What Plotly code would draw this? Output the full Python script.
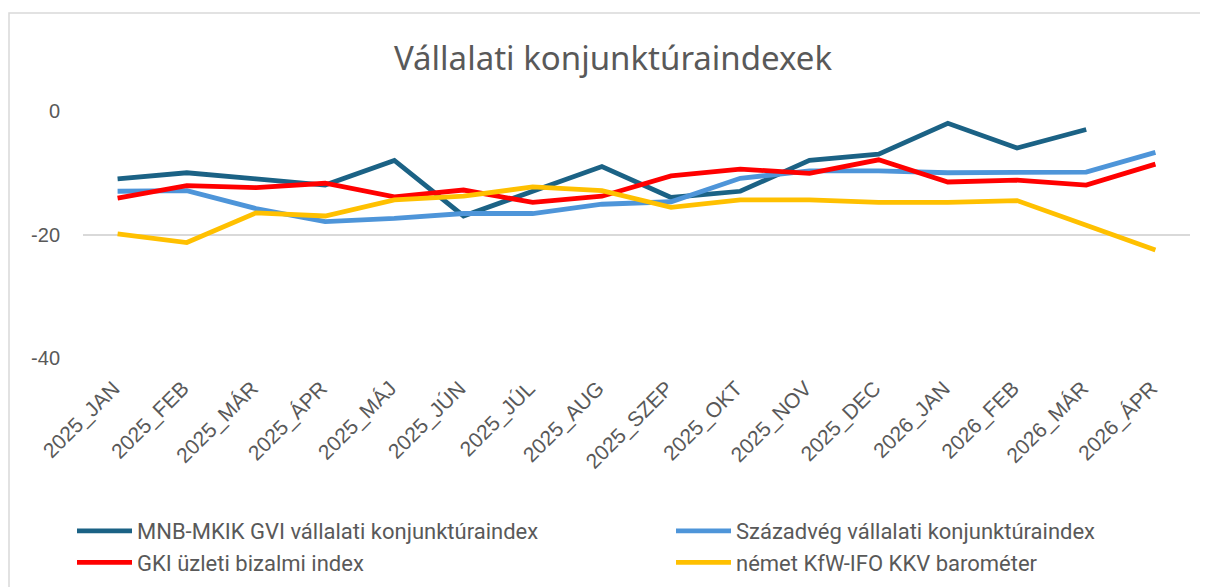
import plotly.graph_objects as go

categories = ["2025_JAN", "2025_FEB", "2025_MÁR", "2025_ÁPR", "2025_MÁJ", "2025_JÚN",
              "2025_JÚL", "2025_AUG", "2025_SZEP", "2025_OKT", "2025_NOV", "2025_DEC",
              "2026_JAN", "2026_FEB", "2026_MÁR", "2026_ÁPR"]

mnb_gvi = [-11, -10, -11, -12, -8, -17, -13, -9, -14, -13, -8, -7, -2, -6, -3, None]
szazadveg = [-13, -12.9, -15.8, -17.9, -17.4, -16.6, -16.6, -15.1, -14.7, -10.9, -9.7, -9.7,
             -10, -9.9, -9.9, -6.7]
gki = [-14.1, -12.1, -12.4, -11.7, -13.9, -12.8, -14.8, -13.8, -10.5, -9.4, -10.1, -7.9,
       -11.5, -11.2, -12, -8.6]
kfw_ifo = [-19.9, -21.3, -16.5, -17, -14.4, -13.8, -12.3, -12.9, -15.6, -14.4, -14.4, -14.8,
           -14.8, -14.5, -18.5, -22.5]

series = [
    ("MNB-MKIK GVI vállalati konjunktúraindex", mnb_gvi, "#1B6285", "legend"),
    ("Századvég vállalati konjunktúraindex", szazadveg, "#4E95D9", "legend2"),
    ("GKI üzleti bizalmi index", gki, "#FF0000", "legend"),
    ("német KfW-IFO KKV barométer", kfw_ifo, "#FFC000", "legend2"),
]

fig = go.Figure()
for name, vals, color, lg in series:
    fig.add_trace(go.Scatter(x=categories, y=vals, name=name, mode="lines",
                             line=dict(color=color, width=4.8), connectgaps=False,
                             legend=lg))

# page body has an 8px offset; work in reference pixel coordinates minus 8
OFF = 8
W, H = 1208 - OFF, 587 - OFF
L, R, T = 83 - OFF, 1208 - 1190, 111 - OFF
B = H - (358 - OFF)
pw, ph = W - L - R, H - T - B

def px_x(p):
    return (p - OFF - L) / pw

def px_y(p):
    return (H - B - (p - OFF)) / ph

fig.add_shape(type="rect", xref="paper", yref="paper",
              x0=px_x(9), x1=px_x(1225), y0=px_y(620), y1=px_y(13),
              line=dict(color="#D9D9D9", width=1.5), fillcolor="rgba(0,0,0,0)", layer="below")

legend_font = dict(family="Roboto, sans-serif", size=22, color="#595959")

fig.update_layout(
    width=W, height=H,
    margin=dict(l=L, r=R, t=T, b=B, autoexpand=False),
    paper_bgcolor="white", plot_bgcolor="white",
    title=dict(text="Vállalati konjunktúraindexek", x=px_x(613), xanchor="center",
               xref="paper", y=1 - (58 - OFF) / H, yanchor="middle",
               font=dict(family="Noto Sans, sans-serif", size=33, color="#595959")),
    font=dict(family="Liberation Sans, Arial, sans-serif", color="#595959"),
    xaxis=dict(type="category", range=[-0.5, 15.5], tickangle=-45,
               showgrid=False, showline=False, ticks="",
               ticklabelstandoff=13, ticklabelshift=-4,
               tickfont=dict(family="Liberation Sans, Arial, sans-serif", size=21,
                             color="#595959")),
    yaxis=dict(range=[-40, 0], tickvals=[0, -20, -40], ticktext=["0", "-20", "-40"],
               showgrid=True, gridcolor="#D9D9D9", gridwidth=1.5, zeroline=False,
               showline=False, ticks="", ticklabelstandoff=22,
               tickfont=dict(family="Liberation Sans, Arial, sans-serif", size=20,
                             color="#595959")),
    showlegend=True,
    legend=dict(orientation="v", x=px_x(72), xanchor="left", y=px_y(510), yanchor="top",
                itemwidth=55, tracegroupgap=0, font=legend_font),
    legend2=dict(orientation="v", x=px_x(671), xanchor="left", y=px_y(510), yanchor="top",
                 itemwidth=55, tracegroupgap=0, font=legend_font),
)

fig.write_html("out.html")
